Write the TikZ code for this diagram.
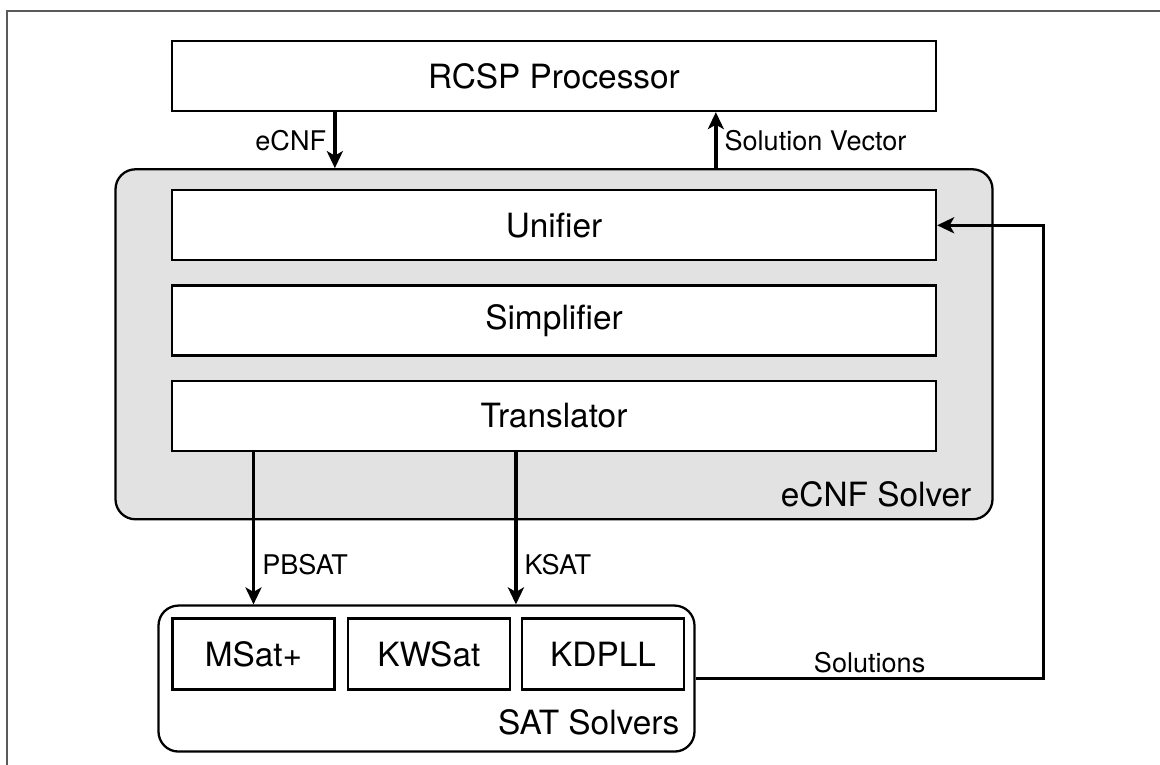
\documentclass[tikz,border=0pt]{standalone}
\usepackage{fontspec}
\setmainfont{TeX Gyre Heros}
\usepackage{tikz}
\usetikzlibrary{positioning,arrows.meta}
\definecolor{SOLVER_GRAY}{HTML}{E2E2E2}
\definecolor{FRAME_GRAY}{HTML}{5A5A5A}
\newcommand{\stackfont}{\fontsize{19}{23}\selectfont}
\newcommand{\flowfont}{\fontsize{15.4}{18}\selectfont}
\tikzstyle{layer} = [rectangle, draw=black, line width=1.3pt, font=\stackfont, inner sep=0pt]
\tikzstyle{bar_stack} = [layer, fill=white, minimum width=15.28cm, minimum height=1.4cm]
\tikzstyle{solver_stack} = [layer, fill=SOLVER_GRAY, rounded corners=0.4cm]
\tikzstyle{sat_stack} = [layer, fill=white, minimum width=3.24cm, minimum height=1.42cm]
\tikzstyle{box_label} = [font=\stackfont, inner sep=0pt]
\tikzstyle{flow} = [line width=2pt, -{Stealth[length=0.34cm, width=0.32cm, inset=0.09cm]}]
\tikzstyle{flow_label} = [font=\flowfont, inner sep=0.14cm]

\begin{document}
\begin{tikzpicture}[node distance = 1cm and 0cm]
      \useasboundingbox (0,0) rectangle (23.2,-15.3);
      \draw[line width=1.1pt, FRAME_GRAY] (0.14,-15.3) |- (23.2,-0.22);

      \node[bar_stack] (RCSP) at (11.08,-1.52) {RCSP Processor};

      %%%%%%%%%%%%%%%%%%%%%%%%%%%%%%%%%%%%%%%%%%%%%%%%%
      % eCNF SOLVER
      %%%%%%%%%%%%%%%%%%%%%%%%%%%%%%%%%%%%%%%%%%%%%%%%%
      \node[solver_stack, minimum width=17.54cm, minimum height=7cm, below=1.12cm of RCSP] (SOLVER) {};
      \node[box_label, above left=0.26cm and 0.44cm of SOLVER.south east] (SOLVER_LBL) {eCNF Solver};

      \node[bar_stack, below=0.42cm of SOLVER.north] (UNIF)  {Unifier};
      \node[bar_stack, below=0.46cm of UNIF]         (SIMP)  {Simplifier};
      \node[bar_stack, below=0.46cm of SIMP]         (TRANS) {Translator};

      %%%%%%%%%%%%%%%%%%%%%%%%%%%%%%%%%%%%%%%%%%%%%%%%%
      % SAT SOLVERS
      %%%%%%%%%%%%%%%%%%%%%%%%%%%%%%%%%%%%%%%%%%%%%%%%%
      \node[solver_stack, fill=white, minimum width=10.72cm, minimum height=2.92cm, below right=1.68cm and 0.86cm of SOLVER.south west] (SAT) {};
      \node[box_label, above left=0.34cm and 0.32cm of SAT.south east] (SAT_LBL) {SAT Solvers};

      \node[sat_stack, below right=0.26cm and 0.28cm of SAT.north west] (MSAT)  {MSat+};
      \node[sat_stack, right=0.22cm of MSAT]                            (KWSAT) {KWSat};
      \node[sat_stack, right=0.2cm of KWSAT]                            (KDPLL) {KDPLL};

      % arrow ends
      \coordinate[right=3.28cm of RCSP.south west] (ECNF_IN);
      \coordinate[right=10.9cm of RCSP.south west] (VEC_OUT);
      \coordinate[right=0.1cm of KWSAT.north east] (KSAT_IN);
      \coordinate[right=6.96cm of SAT.east]        (SOL_TURN);

      \draw[flow] (ECNF_IN) -- node[flow_label, left] (ECNF_LBL) {eCNF} (ECNF_IN |- SOLVER.north);
      \draw[flow] (VEC_OUT |- SOLVER.north) -- node[flow_label, right] (VEC_LBL) {Solution Vector} (VEC_OUT);
      \draw[flow] (MSAT |- TRANS.south) -- node[flow_label, right, pos=0.74] (PB_LBL) {PBSAT} (MSAT |- SAT.north);
      \draw[flow] (KSAT_IN |- TRANS.south) -- node[flow_label, right, pos=0.74] (KSAT_LBL) {KSAT} (KSAT_IN |- SAT.north);
      \draw[flow] (SAT.east) -- node[flow_label, above, inner sep=0.08cm] (SOL_LBL) {Solutions} (SOL_TURN) |- (UNIF.east);
\end{tikzpicture}
\end{document}
